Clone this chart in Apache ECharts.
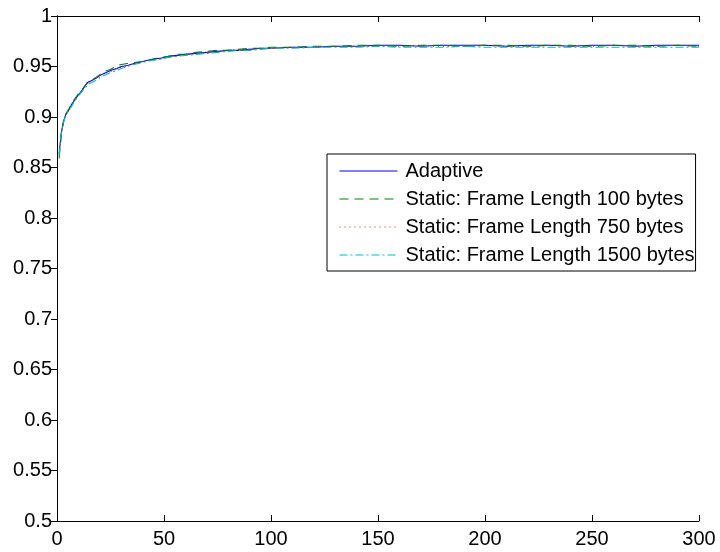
<!DOCTYPE html>
<html>
<head>
<meta charset="utf-8">
<script src="https://cdn.jsdelivr.net/npm/echarts@6/dist/echarts.min.js"></script>
<style>
html,body{margin:0;padding:0;background:#fff;}
#chart{width:720px;height:552px;}
</style>
</head>
<body>
<div id="chart"></div>
<script>
const xTicks = [0, 50, 100, 150, 200, 250, 300];
const seriesNames = ['Adaptive', 'Static: Frame Length 100 bytes', 'Static: Frame Length 750 bytes', 'Static: Frame Length 1500 bytes'];

const xs = [1,2,3,4,5,6,7,8,9,10,12,14,16,18,20,22,25,28,30,33,36,40,44,48,52,56,60,65,70,75,80,85,90,95,100,110,120,130,140,150,160,170,180,190,200,210,220,230,240,250,260,270,280,290,300];

const adaptive = [0.864,0.884,0.895,0.902,0.905,0.909,0.913,0.916,0.919,0.922,0.927,0.934,0.936,0.938,0.941,0.943,0.946,0.948,0.950,0.951,0.953,0.955,0.957,0.958,0.960,0.961,0.962,0.963,0.964,0.965,0.966,0.966,0.967,0.968,0.968,0.969,0.969,0.970,0.970,0.971,0.971,0.970,0.971,0.971,0.971,0.970,0.971,0.971,0.970,0.971,0.971,0.970,0.971,0.971,0.971];
const static100 = [0.859,0.882,0.896,0.903,0.906,0.910,0.912,0.917,0.920,0.923,0.928,0.933,0.936,0.939,0.942,0.945,0.947,0.951,0.952,0.953,0.954,0.955,0.957,0.959,0.960,0.962,0.962,0.964,0.965,0.966,0.966,0.967,0.968,0.968,0.969,0.969,0.970,0.970,0.971,0.971,0.970,0.971,0.971,0.970,0.971,0.971,0.970,0.971,0.971,0.970,0.971,0.971,0.970,0.971,0.970];
const static750 = [0.863,0.885,0.894,0.902,0.906,0.909,0.912,0.916,0.919,0.921,0.927,0.933,0.936,0.938,0.941,0.943,0.945,0.948,0.949,0.951,0.953,0.955,0.956,0.958,0.959,0.961,0.962,0.963,0.964,0.965,0.966,0.967,0.967,0.968,0.968,0.969,0.969,0.970,0.970,0.970,0.970,0.971,0.970,0.970,0.971,0.970,0.970,0.971,0.970,0.970,0.971,0.970,0.970,0.971,0.970];
const static1500 = [0.862,0.883,0.894,0.901,0.905,0.908,0.911,0.915,0.918,0.921,0.926,0.931,0.934,0.936,0.939,0.941,0.944,0.946,0.948,0.950,0.952,0.954,0.956,0.957,0.959,0.960,0.961,0.962,0.963,0.964,0.965,0.966,0.966,0.967,0.968,0.968,0.969,0.969,0.969,0.970,0.969,0.969,0.969,0.970,0.969,0.969,0.969,0.969,0.969,0.969,0.969,0.969,0.969,0.969,0.969];

function pairs(ys){ return xs.map((x,i)=>[x, ys[i]]); }

const FONT = 'Liberation Sans, Arial, sans-serif';
const FS = 20;
const chart = echarts.init(document.getElementById('chart'), null, {renderer:'canvas'});
const axisLine = {show:true, lineStyle:{color:'#000', width:1}};
function mkSeries(name, data, color, type){
  return {
    name, type:'line', data, xAxisIndex:0, yAxisIndex:0,
    showSymbol:false, symbol:'none', smooth:false,
    lineStyle:{color, width:1.1, type},
    itemStyle:{color},
    animation:false
  };
}
chart.setOption({
  animation:false,
  backgroundColor:'#fff',
  grid:{left:57, right:21, top:16, bottom:31, containLabel:false, show:false},
  legend:{
    data:seriesNames,
    orient:'vertical',
    left:327, top:154,
    padding:[7,1,6,12],
    itemWidth:58, itemHeight:14, itemGap:8,
    itemStyle:{opacity:0},
    lineStyle:{width:1},
    backgroundColor:'#fff', borderColor:'#000', borderWidth:1, borderRadius:0,
    textStyle:{fontFamily:FONT, fontSize:FS, color:'#000', lineHeight:20, padding:[0,0,0,3]},
    inactiveColor:'#ccc'
  },
  xAxis:[
    {type:'value', min:0, max:300, interval:50, position:'bottom',
     axisLine, axisTick:{show:true, inside:true, length:6, lineStyle:{color:'#000'}},
     axisLabel:{fontFamily:FONT, fontSize:FS, color:'#000', margin:8},
     splitLine:{show:false}},
    {type:'value', min:0, max:300, interval:50, position:'top',
     axisLine, axisTick:{show:true, inside:true, length:6, lineStyle:{color:'#000'}},
     axisLabel:{show:false}, splitLine:{show:false}}
  ],
  yAxis:[
    {type:'value', min:0.5, max:1, interval:0.05, position:'left',
     axisLine, axisTick:{show:true, inside:false, length:6, lineStyle:{color:'#000'}},
     axisLabel:{fontFamily:FONT, fontSize:FS, color:'#000', margin:5,
       formatter:v=>String(+v.toFixed(2))},
     splitLine:{show:false}},
    {type:'value', min:0.5, max:1, interval:0.05, position:'right',
     axisLine, axisTick:{show:true, inside:true, length:5, lineStyle:{color:'#000'}},
     axisLabel:{show:false}, splitLine:{show:false}}
  ],
  series:[
    mkSeries(seriesNames[0], pairs(adaptive), '#0000ff', 'solid'),
    mkSeries(seriesNames[1], pairs(static100), '#008000', [9,6]),
    mkSeries(seriesNames[2], pairs(static750), '#ff0000', [1,4]),
    mkSeries(seriesNames[3], pairs(static1500), '#00bfbf', [8,3,2,3])
  ]
});
</script>
</body>
</html>
